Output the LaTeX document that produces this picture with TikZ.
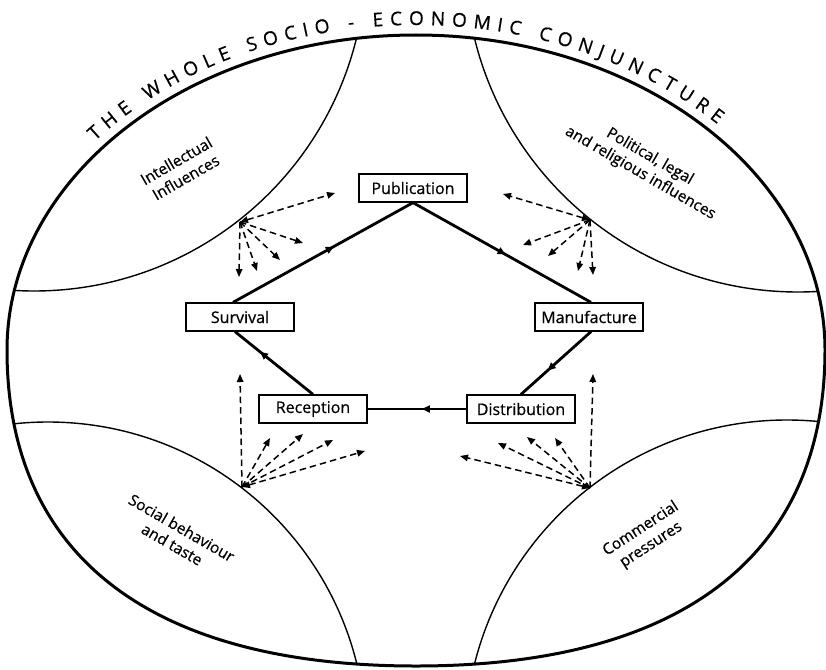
\documentclass[tikz,border=0pt]{standalone}
\usepackage{fontspec}
\setmainfont{Open Sans}[FakeBold=0.6]
\usetikzlibrary{arrows.meta,decorations.markings,decorations.text}
\begin{document}
\begin{tikzpicture}[x=1pt,y=-1pt,
  box/.style={draw,line width=1.3pt,minimum width=108pt,minimum height=28pt,inner sep=0pt,fill=white,font=\fontsize{16}{19}\selectfont},
  flowline/.style={line width=2.8pt,postaction={decorate},decoration={markings,mark=at position #1 with {\arrow{Triangle[length=8pt,width=7pt]}}}},
  infl/.style={line width=1.5pt,dash pattern=on 6.5pt off 4pt,arrows={-Triangle[length=8pt,width=6.5pt]}},
  inflboth/.style={infl,arrows={Triangle[length=8pt,width=6.5pt]-Triangle[length=8pt,width=6.5pt]}},
  region/.style={align=center,font=\fontsize{15.5}{19}\selectfont},
  thinarc/.style={line width=1.4pt},
  outerline/.style={line width=3pt}
]
\useasboundingbox (0,0) rectangle (826,669);
% inner arcs clipped by the outline
\begin{scope}
\clip (825,350) .. controls (825,176) and (641.9,35) .. (416,35) .. controls (190.1,35) and (7,176) .. (7,350) .. controls (7,555.4) and (150.2,666) .. (416,666) .. controls (681.8,666) and (825,555.4) .. (825,350) -- cycle;
\draw[thinarc] (34,-41) circle[radius=332];
\draw[thinarc] (798,-41) circle[radius=333];
\draw[thinarc] (48,740) circle[radius=318];
\draw[thinarc] (787,742) circle[radius=322];
\end{scope}
\draw[outerline] (825,350) .. controls (825,176) and (641.9,35) .. (416,35) .. controls (190.1,35) and (7,176) .. (7,350) .. controls (7,555.4) and (150.2,666) .. (416,666) .. controls (681.8,666) and (825,555.4) .. (825,350) -- cycle;
% title
\path[decorate,decoration={text along path,text={|\fontsize{19}{22}\selectfont|THE WHOLE SOCIO - ECONOMIC CONJUNCTURE},text align={fit to path}}]
  (416,350) ++(220:419 and 325) arc[start angle=220,end angle=316,x radius=419,y radius=325];
% region labels
\node[region,rotate=30] (intel) at (181,169) {Intellectual\\Influences};
\node[region,rotate=-30] (polit) at (645,165) {Political, legal\\and religious influences};
\node[region,rotate=-30] (social) at (177,536) {Social behaviour\\and taste};
\node[region,rotate=33] (comm) at (646,537) {Commercial\\pressures};
% boxes
\node[box] (pub) at (413,188) {Publication};
\node[box] (sur) at (240,317) {Survival};
\node[box] (man) at (589,317) {Manufacture};
\node[box] (rec) at (313,409) {Reception};
\node[box] (dis) at (521,409) {Distribution};
% cycle
\draw[flowline=0.56] ([xshift=-7pt]sur.north) -- (pub.south);
\draw[flowline=0.52] (pub.south) -- ([xshift=2pt]man.north);
\draw[flowline=0.62] ([xshift=2pt]man.south) -- (dis.north);
\draw[flowline=0.45] (dis.west) -- (rec.east);
\draw[flowline=0.68] (rec.north) -- ([xshift=-5pt]sur.south);
% influence clusters
\coordinate (o1) at (240,222);
\coordinate (a1) at (335,193);
\coordinate (a2) at (303,243);
\coordinate (a3) at (280,260);
\coordinate (a4) at (257,271);
\coordinate (a5) at (239,277);
\draw[inflboth] (o1) -- (a1);
\draw[infl] (o1) -- (a2);
\draw[infl] (o1) -- (a3);
\draw[infl] (o1) -- (a4);
\draw[infl] (o1) -- (a5);
\coordinate (o2) at (590,220);
\coordinate (b1) at (503,194);
\coordinate (b2) at (523,245);
\coordinate (b3) at (548,256);
\coordinate (b4) at (578,271);
\coordinate (b5) at (593,275);
\draw[inflboth] (o2) -- (b1);
\draw[infl] (o2) -- (b2);
\draw[infl] (o2) -- (b3);
\draw[infl] (o2) -- (b4);
\draw[infl] (o2) -- (b5);
\coordinate (o3) at (242,487);
\coordinate (c1) at (240,374);
\coordinate (c2) at (270,438);
\coordinate (c3) at (303,434);
\coordinate (c4) at (333,440);
\coordinate (c5) at (365,451);
\draw[infl] (o3) -- (c1);
\draw[infl] (o3) -- (c2);
\draw[infl] (o3) -- (c3);
\draw[infl] (o3) -- (c4);
\draw[inflboth] (o3) -- (c5);
\coordinate (o4) at (590,488);
\coordinate (d1) at (593,374);
\coordinate (d2) at (555,438);
\coordinate (d3) at (527,437);
\coordinate (d4) at (498,443);
\coordinate (d5) at (460,456);
\draw[infl] (o4) -- (d1);
\draw[infl] (o4) -- (d2);
\draw[infl] (o4) -- (d3);
\draw[infl] (o4) -- (d4);
\draw[inflboth] (o4) -- (d5);
\end{tikzpicture}
\end{document}
